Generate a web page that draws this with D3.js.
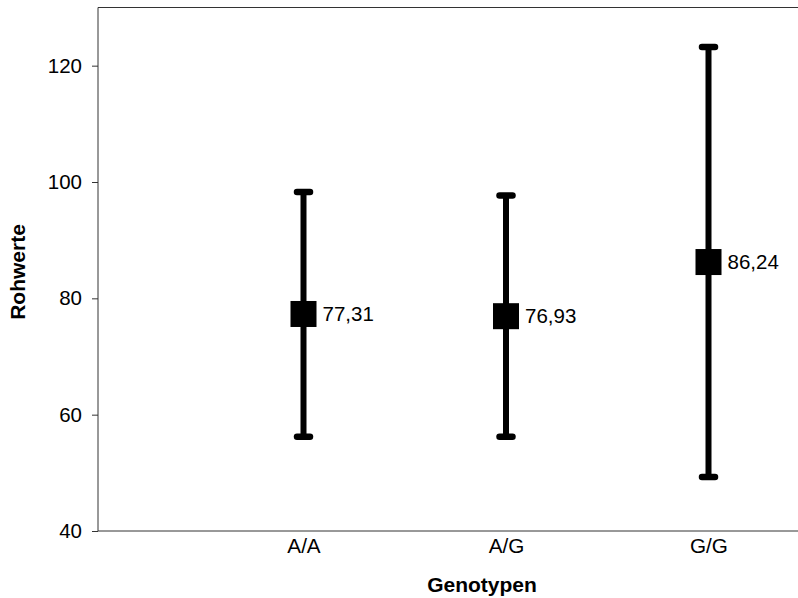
<!DOCTYPE html>
<html>
<head>
<meta charset="utf-8">
<script src="https://cdn.jsdelivr.net/npm/d3@7"></script>
<style>
  html, body { margin: 0; padding: 0; background: #fff; }
  svg { display: block; font-family: Arial, 'Liberation Sans', sans-serif; }
  .axis path, .axis line { stroke: #333; }
  .frame { fill: none; stroke: #333; stroke-width: 1; }
</style>
</head>
<body>
<svg id="chart"></svg>
<script>
'use strict';

var categories = ['A/A', 'A/G', 'G/G'];
var means = [77.31, 76.93, 86.24];
var upper = [98.3, 97.7, 123.2];
var lower = [56.2, 56.2, 49.3];
var yTicks = [40, 60, 80, 100, 120];

var WIDTH = 798,
  HEIGHT = 598,
  PLOT = {
    left: 98,
    top: 7.5,
    bottom: 531
  };

var svg = d3.select('#chart')
  .attr('width', WIDTH)
  .attr('height', HEIGHT);

var xScale = d3.scalePoint()
  .domain(categories)
  .range([303.5, 708.5]);

var yScale = d3.scaleLinear()
  .domain([40, 130])
  .range([PLOT.bottom, PLOT.top]);

// frame: top, left and bottom (right side runs off the picture)
svg.append('path')
  .attr('class', 'frame')
  .attr('d', 'M' + WIDTH + ',' + PLOT.top + 'H' + PLOT.left + 'V' + PLOT.bottom + 'H' + WIDTH);

// y axis
var yAxis = d3.axisLeft(yScale)
  .tickValues(yTicks)
  .tickSize(6)
  .tickPadding(10);

var yG = svg.append('g')
  .attr('class', 'y axis')
  .attr('transform', 'translate(' + PLOT.left + ',0)')
  .call(yAxis);
yG.select('.domain').remove();
yG.selectAll('line').attr('stroke', '#555');
yG.selectAll('text')
  .attr('fill', '#000')
  .style('font-size', '20.5px');

// x axis labels, no tick marks
var xAxis = d3.axisBottom(xScale)
  .tickSize(0)
  .tickPadding(7);

var xG = svg.append('g')
  .attr('class', 'x axis')
  .attr('transform', 'translate(0,' + PLOT.bottom + ')')
  .call(xAxis);
xG.select('.domain').remove();
xG.selectAll('text')
  .attr('fill', '#000')
  .style('font-size', '20.7px');

// error bars
var bars = svg.append('g')
  .selectAll('g')
  .data(categories)
  .join('g');

bars.append('line')
  .attr('x1', function(d) { return xScale(d); })
  .attr('x2', function(d) { return xScale(d); })
  .attr('y1', function(d, i) { return yScale(upper[i]); })
  .attr('y2', function(d, i) { return yScale(lower[i]); })
  .attr('stroke', '#000')
  .attr('stroke-width', 6);

[upper, lower].forEach(function(arr) {
  bars.append('line')
    .attr('x1', function(d) { return xScale(d) - 6.5; })
    .attr('x2', function(d) { return xScale(d) + 6.5; })
    .attr('y1', function(d, i) { return yScale(arr[i]); })
    .attr('y2', function(d, i) { return yScale(arr[i]); })
    .attr('stroke', '#000')
    .attr('stroke-width', 6.5)
    .attr('stroke-linecap', 'round');
});

bars.append('rect')
  .attr('x', function(d) { return xScale(d) - 13; })
  .attr('y', function(d, i) { return yScale(means[i]) - 13; })
  .attr('width', 26)
  .attr('height', 26)
  .attr('fill', '#000');

bars.append('text')
  .attr('x', function(d) { return xScale(d) + 19; })
  .attr('y', function(d, i) { return yScale(means[i]); })
  .attr('dy', '0.35em')
  .style('font-size', '20.5px')
  .text(function(d, i) { return d3.format('.2f')(means[i]).replace('.', ','); });

// axis titles
svg.append('text')
  .attr('x', 482)
  .attr('y', 592)
  .attr('text-anchor', 'middle')
  .style('font-size', '21px')
  .style('font-weight', 'bold')
  .text('Genotypen');

svg.append('text')
  .attr('transform', 'translate(25,272) rotate(-90)')
  .attr('text-anchor', 'middle')
  .style('font-size', '21px')
  .style('font-weight', 'bold')
  .text('Rohwerte');
</script>
</body>
</html>
